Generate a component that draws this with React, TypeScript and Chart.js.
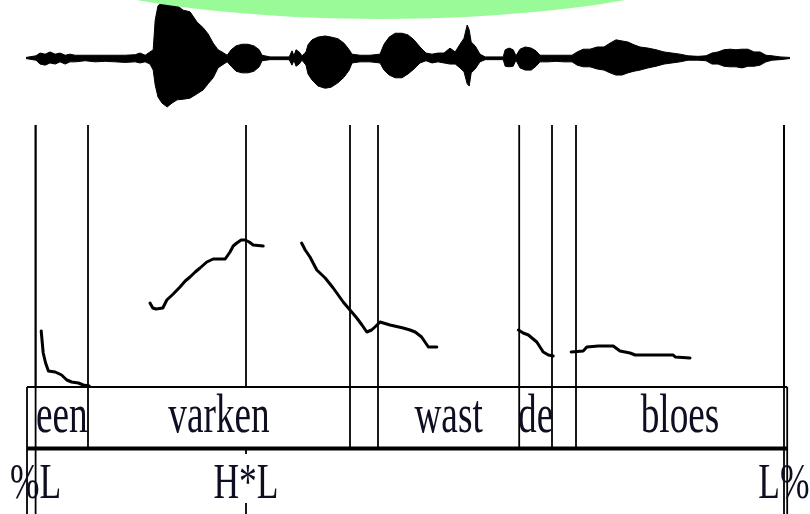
import { useEffect, useRef } from "react";
import { Chart, registerables } from "chart.js";

Chart.register(...registerables);

// ---- Annotation tiers (time in ms) ----
const WORD_LABELS = ["een", "varken", "", "wast", "de", "", "bloes"];
const WORD_BOUNDS_MS = [24, 155, 810, 880, 1233, 1315, 1375, 1895];
const TONE_LABELS = ["%L", "H*L", "L%"];
const TONE_TIMES_MS = [24, 550, 1895];

// ---- Oscillogram envelope (normalised amplitude) ----
const WAVE_TIME_MS = [
  0, 25, 35, 48, 60, 73, 85, 98, 110, 123,
  148, 173, 198, 223, 248, 273, 285, 298, 310, 318,
  323, 330, 340, 353, 365, 378, 393, 410, 428, 443,
  455, 468, 480, 490, 503, 513, 525, 540, 555, 570,
  583, 590, 610, 658, 665, 670, 675, 683, 690, 700,
  705, 715, 730, 748, 763, 780, 795, 808, 815, 835,
  860, 885, 895, 908, 923, 940, 955, 970, 985, 1000,
  1015, 1030, 1045, 1060, 1073, 1085, 1095, 1103, 1108, 1113,
  1123, 1135, 1148, 1193, 1198, 1208, 1218, 1225, 1235, 1248,
  1263, 1275, 1285, 1305, 1325, 1345, 1365, 1378, 1393, 1410,
  1428, 1445, 1460, 1475, 1490, 1505, 1520, 1535, 1555, 1575,
  1595, 1615, 1635, 1655, 1680, 1700, 1715, 1730, 1745, 1760,
  1775, 1790, 1805, 1820, 1835, 1850, 1865, 1885, 1910,
];
const WAVE_UPPER = [
  0.01, 0.04, 0.09, 0.07, 0.11, 0.07, 0.09, 0.05, 0.07, 0.05,
  0.05, 0.05, 0.05, 0.05, 0.05, 0.06, 0.09, 0.05, 0.11, 0.15,
  0.69, 0.95, 1.0, 1.0, 0.98, 0.95, 0.87, 0.84, 0.65, 0.55,
  0.44, 0.27, 0.15, 0.11, 0.05, 0.15, 0.22, 0.25, 0.25, 0.22,
  0.15, 0.05, 0.02, 0.02, 0.13, 0.04, 0.15, 0.11, 0.04, 0.11,
  0.24, 0.33, 0.38, 0.4, 0.38, 0.35, 0.27, 0.15, 0.07, 0.05,
  0.05, 0.07, 0.25, 0.38, 0.45, 0.45, 0.42, 0.33, 0.2, 0.09,
  0.07, 0.09, 0.09, 0.18, 0.11, 0.25, 0.36, 0.6, 0.51, 0.29,
  0.22, 0.07, 0.02, 0.02, 0.15, 0.18, 0.15, 0.04, 0.16, 0.2,
  0.18, 0.13, 0.05, 0.05, 0.05, 0.05, 0.05, 0.11, 0.16, 0.16,
  0.2, 0.2, 0.27, 0.33, 0.31, 0.29, 0.24, 0.2, 0.18, 0.15,
  0.11, 0.09, 0.07, 0.04, 0.03, 0.04, 0.09, 0.11, 0.15, 0.16,
  0.15, 0.16, 0.16, 0.11, 0.11, 0.05, 0.04, 0.02, 0.01,
];
const WAVE_LOWER = [
  -0.01, -0.04, -0.11, -0.13, -0.09, -0.11, -0.07, -0.11, -0.07, -0.07,
  -0.05, -0.07, -0.06, -0.07, -0.08, -0.07, -0.09, -0.07, -0.11, -0.22,
  -0.49, -0.71, -0.82, -0.89, -0.82, -0.76, -0.75, -0.73, -0.65, -0.58,
  -0.47, -0.36, -0.18, -0.13, -0.07, -0.15, -0.24, -0.27, -0.27, -0.24,
  -0.16, -0.05, -0.03, -0.03, -0.13, -0.04, -0.15, -0.11, -0.04, -0.13,
  -0.29, -0.4, -0.51, -0.55, -0.53, -0.45, -0.35, -0.22, -0.09, -0.07,
  -0.07, -0.09, -0.22, -0.31, -0.36, -0.36, -0.29, -0.2, -0.09, -0.05,
  -0.09, -0.07, -0.09, -0.11, -0.11, -0.18, -0.25, -0.47, -0.51, -0.27,
  -0.2, -0.07, -0.03, -0.03, -0.15, -0.16, -0.15, -0.04, -0.18, -0.22,
  -0.22, -0.15, -0.07, -0.07, -0.06, -0.07, -0.07, -0.13, -0.16, -0.16,
  -0.2, -0.22, -0.27, -0.31, -0.31, -0.27, -0.24, -0.22, -0.18, -0.15,
  -0.11, -0.09, -0.07, -0.04, -0.04, -0.05, -0.11, -0.11, -0.15, -0.16,
  -0.16, -0.18, -0.15, -0.15, -0.13, -0.07, -0.04, -0.03, -0.01,
];

// ---- F0 contour, one stretch per voiced stretch (ms, Hz) ----
const F0_EEN_MS = [38, 43, 49, 56, 73, 89, 102, 114, 131, 143, 158];
const F0_EEN_HZ = [155, 133, 123, 115, 114, 111, 106, 104, 103, 101, 100];
const F0_VARKEN_MS = [310, 317, 325, 342, 352, 368, 385, 398, 410, 423, 435, 452, 468, 498, 510, 518, 527, 538, 548, 558, 568, 580, 593];
const F0_VARKEN_HZ = [183, 178, 177, 178, 186, 192, 199, 205, 209, 214, 218, 224, 227, 227, 234, 240, 243, 246, 246, 244, 241, 240.5, 240];
const F0_WAST_MS = [689, 698, 710, 727, 748, 768, 793, 810, 827, 840, 852, 864, 875, 885, 910, 943, 960, 973, 989, 1006, 1027];
const F0_WAST_HZ = [243, 236, 229, 216, 208, 198, 184, 176, 168, 161, 154, 156, 160, 164, 161, 158, 156, 154, 149, 139, 139];
const F0_DE_MS = [1231, 1243, 1256, 1277, 1293, 1306, 1318];
const F0_DE_HZ = [156, 153, 151, 144, 134, 131, 130];
const F0_BLOES_MS = [1363, 1393, 1402, 1431, 1468, 1485, 1510, 1523, 1618, 1623, 1660];
const F0_BLOES_HZ = [134, 135, 139, 140, 140, 135, 133, 131, 131, 129, 128];

const F0_STRETCHES = [
  [F0_EEN_MS, F0_EEN_HZ],
  [F0_VARKEN_MS, F0_VARKEN_HZ],
  [F0_WAST_MS, F0_WAST_HZ],
  [F0_DE_MS, F0_DE_HZ],
  [F0_BLOES_MS, F0_BLOES_HZ],
];

// ---- Layout ----
const W = 810;
const H = 514;
const INK = "#000";
const TEXT_INK = "#0e0e22";
const RULE_WIDTH = 1.8;
const FRAME_START_MS = 2.5;
const FRAME_END_MS = 1903;
const LINE_TOP = 125;
const WORD_TOP = 387;
const WORD_BOTTOM = 448.5;
const WORD_BASELINE = 432;
const TONE_BASELINE = 498;
const SERIF = '"Liberation Serif", "Times New Roman", serif';

const pairs = (xs: number[], ys: number[]) => xs.map((x, i) => ({ x, y: ys[i] }));

function condensedText(ctx: CanvasRenderingContext2D, text: string, cx: number, baseline: number, size: number, sx: number) {
  ctx.save();
  ctx.translate(cx, baseline);
  ctx.scale(sx, 1);
  ctx.font = `${size}px ${SERIF}`;
  ctx.textAlign = "center";
  ctx.textBaseline = "alphabetic";
  ctx.fillStyle = TEXT_INK;
  ctx.fillText(text, 0, 0);
  ctx.restore();
}

const tiersPlugin = {
  id: "tiers",
  beforeDatasetsDraw(chart: any) {
    const { ctx } = chart;
    const x = chart.scales.x;
    const px = (t: number) => x.getPixelForValue(t);
    const vline = (xp: number, y0: number, y1: number, w = RULE_WIDTH) => {
      ctx.beginPath();
      ctx.lineWidth = w;
      ctx.moveTo(xp, y0);
      ctx.lineTo(xp, y1);
      ctx.stroke();
    };
    ctx.save();
    ctx.strokeStyle = INK;

    // tone points: full height, interrupted by the word tier
    TONE_TIMES_MS.forEach((t) => {
      vline(px(t), LINE_TOP, WORD_TOP);
      vline(px(t), WORD_BOTTOM, H);
    });
    // word boundaries through the word tier
    WORD_BOUNDS_MS.forEach((t) => vline(px(t), LINE_TOP, WORD_BOTTOM));

    // word tier frame
    const xl = px(FRAME_START_MS);
    const xr = px(FRAME_END_MS);
    ctx.lineWidth = RULE_WIDTH;
    ctx.beginPath();
    ctx.moveTo(xl, WORD_TOP);
    ctx.lineTo(xr, WORD_TOP);
    ctx.stroke();
    vline(xl, WORD_TOP, H);
    vline(xr, WORD_TOP, H);
    ctx.lineWidth = 3.8;
    ctx.beginPath();
    ctx.moveTo(xl, WORD_BOTTOM);
    ctx.lineTo(xr, WORD_BOTTOM);
    ctx.stroke();

    // word labels centred in their intervals
    WORD_LABELS.forEach((label, i) => {
      if (!label) return;
      const cx = (px(WORD_BOUNDS_MS[i]) + px(WORD_BOUNDS_MS[i + 1])) / 2;
      condensedText(ctx, label, cx, WORD_BASELINE, 54, 0.69);
    });

    // tone labels; interior points get a white backdrop
    TONE_LABELS.forEach((label, i) => {
      const cx = px(TONE_TIMES_MS[i]);
      const isEdge = i === 0 || i === TONE_LABELS.length - 1;
      if (!isEdge) {
        ctx.font = `50px ${SERIF}`;
        const w = ctx.measureText(label).width * 0.71;
        ctx.fillStyle = "#fff";
        ctx.fillRect(cx - w / 2, TONE_BASELINE - 44, w, 49);
      }
      condensedText(ctx, label, cx, TONE_BASELINE, 50, 0.71);
    });
    ctx.restore();
  },
  afterDraw(chart: any) {
    const { ctx } = chart;
    ctx.save();
    ctx.fillStyle = "#98fb98";
    ctx.beginPath();
    ctx.ellipse(381, -72, 400, 91, 0, 0, Math.PI * 2);
    ctx.fill();
    ctx.restore();
  },
};

export default function App() {
  const ref = useRef<HTMLCanvasElement | null>(null);

  useEffect(() => {
    if (!ref.current) return;
    const f0Sets = F0_STRETCHES.map(([ms, hz]) => ({
      data: pairs(ms, hz),
      yAxisID: "pitch",
      borderColor: INK,
      borderWidth: 3,
      pointRadius: 0,
      tension: 0,
      fill: false,
      borderJoinStyle: "round" as const,
      borderCapStyle: "round" as const,
    }));
    const chart = new Chart(ref.current, {
      type: "line",
      data: {
        datasets: [
          ...f0Sets,
          {
            data: pairs(WAVE_TIME_MS, WAVE_UPPER),
            yAxisID: "wave",
            borderColor: "#000",
            backgroundColor: "#000",
            borderWidth: 1,
            pointRadius: 0,
            tension: 0,
            fill: "+1",
          },
          {
            data: pairs(WAVE_TIME_MS, WAVE_LOWER),
            yAxisID: "wave",
            borderColor: "#000",
            borderWidth: 1,
            pointRadius: 0,
            tension: 0,
            fill: false,
          },
        ],
      },
      options: {
        animation: false,
        responsive: false,
        events: [],
        layout: { padding: 0 },
        plugins: { legend: { display: false }, tooltip: { enabled: false } },
        scales: {
          x: { type: "linear", min: -65, max: 1960, display: false },
          pitch: { type: "linear", min: -28, max: 486, display: false },
          wave: { type: "linear", min: -8.2909, max: 1.0545, display: false },
        },
      },
      plugins: [tiersPlugin],
    });
    return () => chart.destroy();
  }, []);

  return (
    <div style={{ position: "absolute", left: 0, top: 0, width: W, height: H, background: "#fff" }}>
      <canvas ref={ref} width={W} height={H} />
    </div>
  );
}
